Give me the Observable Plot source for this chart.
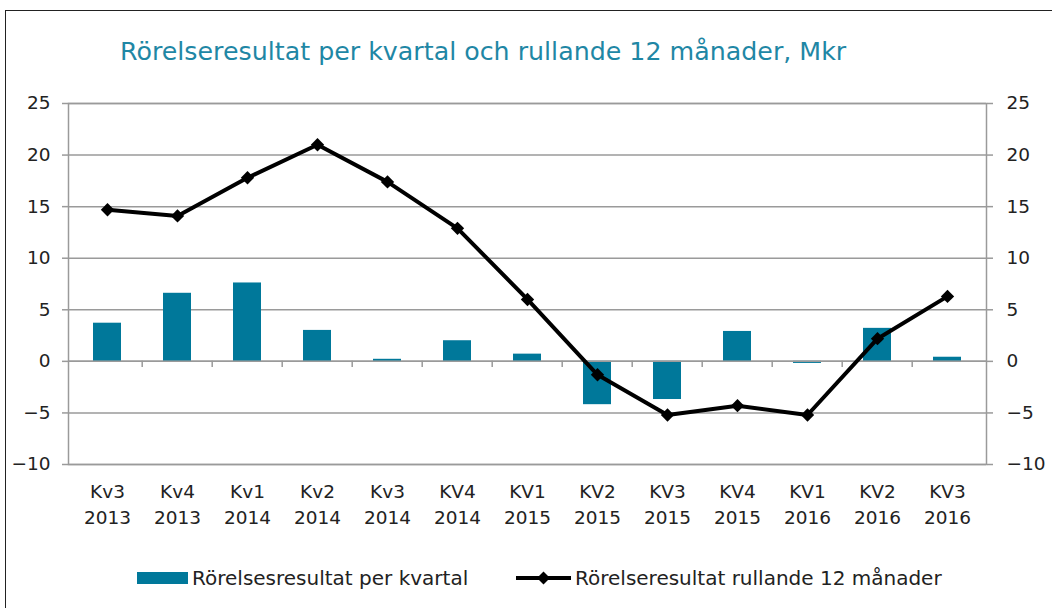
<!DOCTYPE html>
<html>
<head>
<meta charset="utf-8">
<script src="https://cdn.jsdelivr.net/npm/d3@7"></script>
<script src="https://cdn.jsdelivr.net/npm/@observablehq/plot@0.6"></script>
<style>
  html, body { margin: 0; padding: 0; background: #fff; }
  body { width: 1052px; height: 608px; position: relative; overflow: hidden; font-family: "DejaVu Sans", sans-serif; }
  #border { position: absolute; left: 5px; top: 10px; width: 1200px; height: 800px; border: 1.5px solid #222; box-sizing: border-box; }
  #title { position: absolute; left: 120px; top: 37px; font-size: 25.3px; color: #1f87a5; white-space: nowrap; }
  #chart { position: absolute; left: 0; top: 80px; }
  .leg { position: absolute; top: 566px; font-size: 20px; color: #222; white-space: nowrap; display: flex; align-items: center; }
  .leg svg { margin-right: 4px; }
</style>
</head>
<body>
<div id="border"></div>
<div id="title">Rörelseresultat per kvartal och rullande 12 månader, Mkr</div>
<div id="chart"></div>
<div class="leg" style="left:137px"><svg width="51" height="24"><rect x="0" y="6" width="51" height="12" fill="#00789a"></rect></svg><span>Rörelsesresultat per kvartal</span></div>
<div class="leg" style="left:516px"><svg width="55" height="24"><line x1="0" x2="55" y1="12" y2="12" stroke="#000" stroke-width="4"></line><path d="M27.5 5.5 L34 12 L27.5 18.5 L21 12 Z" fill="#000"></path></svg><span>Rörelseresultat rullande 12 månader</span></div>
<script>
const quarters = ["Kv3","Kv4","Kv1","Kv2","Kv3","KV4","KV1","KV2","KV3","KV4","KV1","KV2","KV3"];
const years = ["2013","2013","2014","2014","2014","2014","2015","2015","2015","2015","2016","2016","2016"];
const perQuarter = [3.7, 6.6, 7.6, 3.0, 0.2, 2.0, 0.7, -4.2, -3.7, 2.9, -0.2, 3.2, 0.4];
const rolling12 = [14.7, 14.1, 17.8, 21.0, 17.4, 12.9, 6.0, -1.3, -5.2, -4.3, -5.2, 2.2, 6.3];
const yTicks = [-10, -5, 0, 5, 10, 15, 20, 25];

const cats = quarters.map((q, i) => q + "\n" + years[i]);
const data = cats.map((c, i) => ({cat: c, bar: perQuarter[i], line: rolling12[i]}));

const W = 1052, ML = 68, MR = 66;
const step = (W - ML - MR) / cats.length;
const grid = "#9a9a9a";

const chart = Plot.plot({
  width: W, height: 460,
  marginTop: 23, marginBottom: 76, marginLeft: ML, marginRight: MR,
  style: {fontFamily: "DejaVu Sans, sans-serif", color: "#222", background: "transparent"},
  x: {type: "band", domain: cats, paddingInner: 0.6, paddingOuter: 0.3, label: null},
  y: {domain: [-10, 25], label: null},
  marks: [
    Plot.gridY(yTicks, {stroke: grid, strokeOpacity: 1, strokeWidth: 1.5}),
    Plot.frame({stroke: grid, strokeWidth: 1.5}),
    Plot.barY(data, {x: "cat", y: "bar", fill: "#00789a"}),
    Plot.ruleY([0], {stroke: grid, strokeWidth: 1.5}),
    Plot.ruleX(cats.slice(1), {x: d => d, y1: 0, y2: -0.6, dx: -step / 2, stroke: grid, strokeWidth: 1.5}),
    Plot.axisY(yTicks, {anchor: "left", tickSize: 6, tickPadding: 12, fontSize: 18.5, stroke: grid, strokeWidth: 1.5}),
    Plot.axisY(yTicks, {anchor: "right", tickSize: 6, tickPadding: 14, fontSize: 18.5, stroke: grid, strokeWidth: 1.5}),
    Plot.axisX({tickSize: 0, tickPadding: 16, fontSize: 18.5, lineHeight: 1.36}),
    Plot.line(data, {x: "cat", y: "line", stroke: "#000", strokeWidth: 4}),
    Plot.dot(data, {x: "cat", y: "line", symbol: "diamond2", r: 6, fill: "#000", stroke: "none"})
  ]
});
document.getElementById("chart").appendChild(chart);
</script>
</body>
</html>
